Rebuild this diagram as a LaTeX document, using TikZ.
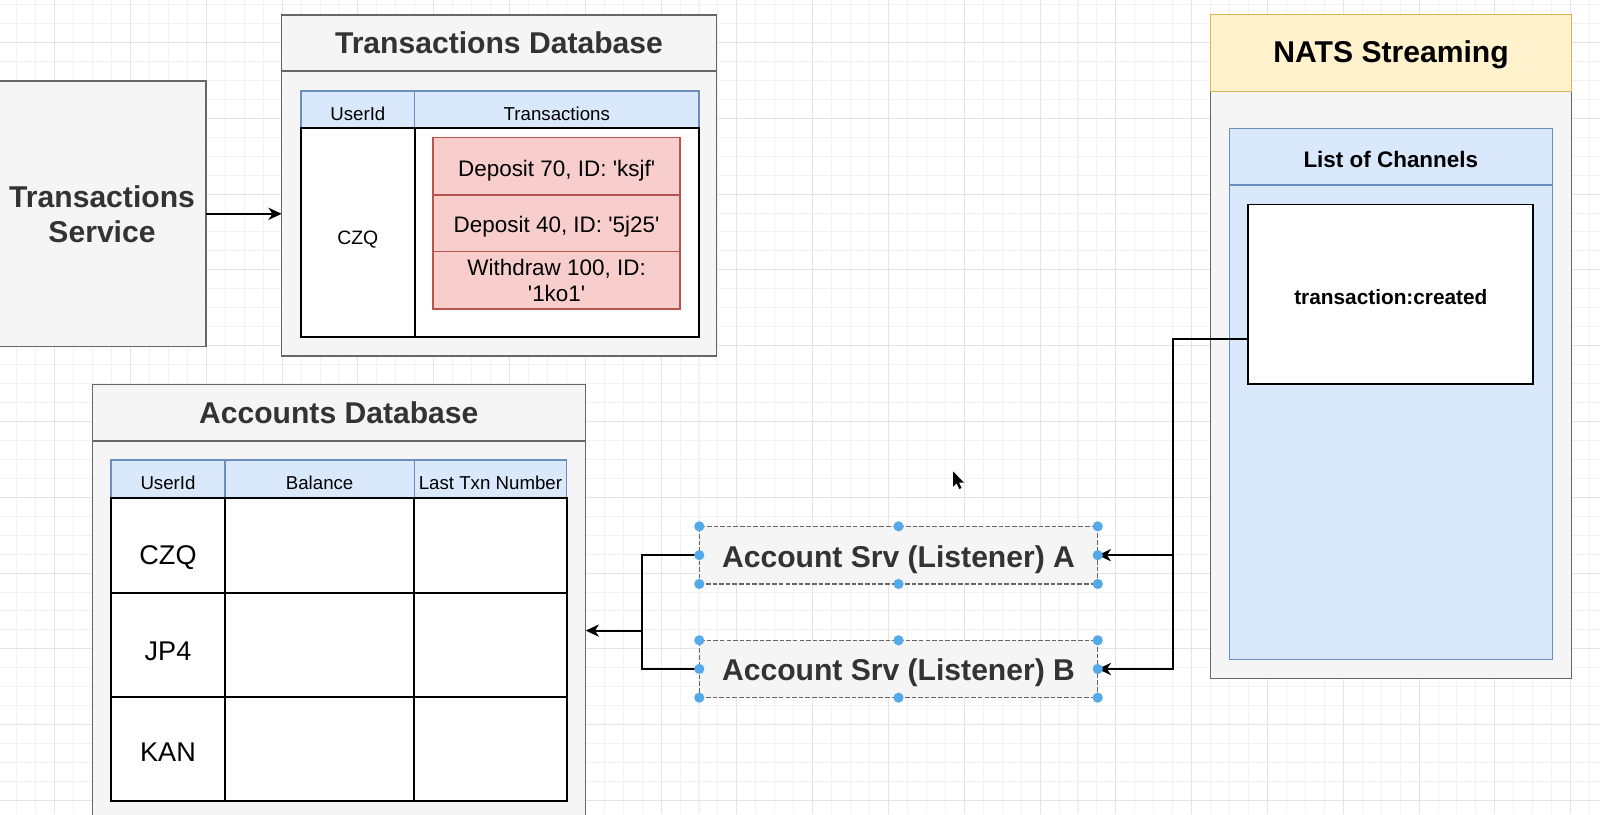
\documentclass[tikz,border=0pt]{standalone}
\usepackage{fontspec}
\setmainfont{Liberation Sans}
\usetikzlibrary{arrows.meta,calc}
\definecolor{gfill}{HTML}{F5F5F5}
\definecolor{gline}{HTML}{666666}
\definecolor{bfill}{HTML}{DAE8FC}
\definecolor{bline}{HTML}{6C8EBF}
\definecolor{rfill}{HTML}{F8CECC}
\definecolor{rline}{HTML}{B85450}
\definecolor{yfill}{HTML}{FFF2CC}
\definecolor{yline}{HTML}{D6B656}
\definecolor{dtext}{HTML}{333333}
\definecolor{handle}{RGB}{84,170,232}
\definecolor{gridminor}{HTML}{F2F2F2}
\definecolor{gridmajor}{HTML}{E4E4E4}
\newcommand{\sq}{\textquotesingle}
\newcommand{\mkbox}[7]{%
  \pgfmathsetmacro{\mkW}{#5-#3}\pgfmathsetmacro{\mkH}{#6-#4}%
  \pgfmathsetmacro{\mkX}{(#3+#5)/2}\pgfmathsetmacro{\mkY}{(#4+#6)/2}%
  \node[#2, minimum width=\mkW pt, minimum height=\mkH pt] (#1) at (\mkX,\mkY) {#7};}
\begin{document}
\begin{tikzpicture}[x=1pt,y=-1pt,
  mybase/.style={inner sep=0pt, outer sep=0pt, align=center},
  vc/.style={text depth=0pt, text height=#1},
  gbox/.style={mybase, draw=gline, fill=gfill, line width=1.5pt},
  bbox/.style={mybase, draw=bline, fill=bfill, line width=1.5pt},
  rbox/.style={mybase, draw=rline, fill=rfill, line width=1.5pt, font=\fontsize{22}{25}\selectfont},
  ybox/.style={mybase, draw=yline, fill=yfill, line width=1.5pt},
  wcell/.style={mybase, draw=black, fill=white, line width=2pt},
  hcell/.style={mybase, draw=bline, fill=bfill, line width=1.5pt, font=\fontsize{18.3}{21}\selectfont, vc=20.4pt},
  bigtitle/.style={font=\bfseries\fontsize{29.5}{35}\selectfont, text=dtext, align=center, inner sep=0pt},
  lbox/.style={mybase, draw=gline, fill=gfill, line width=1.3pt, dash pattern=on 4.5pt off 2pt, font=\bfseries\fontsize{29.5}{35}\selectfont, text=dtext, vc=23.4pt},
  conn/.style={draw=black, line width=1.8pt},
  arr/.style={conn, -{Stealth[length=13pt,width=12pt,inset=4pt]}},
  hdl/.style={circle, fill=handle, inner sep=0pt, minimum size=10pt},
  rowlbl/.style={wcell, font=\fontsize{26.5}{30}\selectfont}
]
\useasboundingbox (0,0) rectangle (1568,798);
\fill[white] (0,0) rectangle (1568,798);
\begin{scope}
\clip (0,0) rectangle (1568,798);
\foreach \i in {0,...,84} {\pgfmathsetmacro{\gx}{16.5+\i*18.57}\draw[gridminor, line width=1pt] (\gx,0) -- (\gx,798);}
\foreach \j in {0,...,43} {\pgfmathsetmacro{\gy}{4.5+\j*18.57}\draw[gridminor, line width=1pt] (0,\gy) -- (1568,\gy);}
\foreach \i in {2,6,...,82} {\pgfmathsetmacro{\gx}{16.5+\i*18.57}\draw[gridmajor, line width=1pt] (\gx,0) -- (\gx,798);}
\foreach \j in {2,6,...,42} {\pgfmathsetmacro{\gy}{4.5+\j*18.57}\draw[gridmajor, line width=1pt] (0,\gy) -- (1568,\gy);}
\end{scope}

% Transactions Service
\mkbox{ts}{gbox}{-10}{79.4}{202}{339.7}{}
\node[bigtitle] (tstxt) at (100,210) {Transactions\\Service};

% Transactions Database
\mkbox{td}{gbox}{276}{14.7}{702}{349}{}
\draw[gline, line width=1.5pt] (276,69.6) -- (702,69.6);
\node[bigtitle] (tdt) at (489,42) {Transactions Database};
\mkbox{tdh1}{hcell, vc=21.4pt}{295}{89}{406.4}{125}{UserId}
\mkbox{tdh2}{hcell, vc=21.4pt}{406.4}{89}{685}{125}{Transactions}
\mkbox{tdb1}{wcell, font=\fontsize{19}{22}\selectfont, vc=23pt}{295}{125}{406.4}{330.6}{CZQ}
\mkbox{tdb2}{wcell}{406.4}{125}{685}{330.6}{}
\mkbox{tx1}{rbox, vc=19.4pt}{424.4}{134.9}{666.5}{191.1}{Deposit 70, ID: \sq ksjf\sq}
\mkbox{tx2}{rbox, vc=18.6pt}{424.4}{191.1}{666.5}{246.6}{Deposit 40, ID: \sq 5j25\sq}
\mkbox{tx3}{rbox}{424.4}{246.6}{666.5}{302.8}{Withdraw 100, ID:\\\sq 1ko1\sq}

% NATS Streaming
\mkbox{nats}{gbox}{1186.5}{14.4}{1540}{665}{}
\mkbox{natsh}{ybox, font=\bfseries\fontsize{29.5}{35}\selectfont, vc=19pt}{1186.5}{14.4}{1540}{89.7}{NATS Streaming}
\mkbox{loc}{bbox}{1204.7}{126}{1521.3}{646.1}{}
\draw[bline, line width=1.5pt] (1204.7,181.1) -- (1521.3,181.1);
\node[font=\bfseries\fontsize{22}{26}\selectfont, inner sep=0pt, vc=20pt] (loct) at (1363,154) {List of Channels};
\mkbox{tc}{wcell, line width=1.8pt, font=\bfseries\fontsize{20.4}{24}\selectfont, vc=20.8pt}{1223.4}{200.4}{1502.7}{376.2}{transaction:created}

% Accounts Database
\mkbox{ad}{gbox}{90.5}{376.6}{574}{840}{}
\draw[gline, line width=1.5pt] (90.5,432.2) -- (574,432.2);
\node[bigtitle] (adt) at (332,404) {Accounts Database};
\mkbox{adh1}{hcell}{108.8}{450.8}{220.5}{487.7}{UserId}
\mkbox{adh2}{hcell}{220.5}{450.8}{406}{487.7}{Balance}
\mkbox{adh3}{hcell}{406}{450.8}{555.3}{487.7}{Last Txn Number}
\mkbox{r1a}{rowlbl, vc=37.8pt}{108.8}{487.7}{220.5}{580.8}{CZQ}
\mkbox{r1b}{wcell}{220.5}{487.7}{406}{580.8}{}
\mkbox{r1c}{wcell}{406}{487.7}{555.3}{580.8}{}
\mkbox{r2a}{rowlbl, vc=31.2pt}{108.8}{580.8}{220.5}{682.7}{JP4}
\mkbox{r2b}{wcell}{220.5}{580.8}{406}{682.7}{}
\mkbox{r2c}{wcell}{406}{580.8}{555.3}{682.7}{}
\mkbox{r3a}{rowlbl, vc=25.6pt}{108.8}{682.7}{220.5}{785}{KAN}
\mkbox{r3b}{wcell}{220.5}{682.7}{406}{785}{}
\mkbox{r3c}{wcell}{406}{682.7}{555.3}{785}{}

% Listeners
\mkbox{la}{lbox}{685.3}{515.8}{1075.8}{572.3}{Account Srv (Listener) A}
\mkbox{lb}{lbox}{685.3}{627.5}{1075.8}{683.7}{Account Srv (Listener) B}

% Connectors
\draw[arr] (ts.east) -- (ts.east -| td.west);
\coordinate (tcp) at ($(tc.north west)!0.75!(tc.south west)$);
\coordinate (jr) at (1149.2,0);
\draw[arr] (tcp) -- (tcp -| jr) |- (lb.east);
\draw[arr] (la.east -| jr) -- (la.east);
\coordinate (jl) at (629.3,618);
\draw[conn] (la.west) -| (jl);
\draw[conn] (lb.west) -| (jl);
\draw[arr] (jl) -- (jl -| ad.east);

% Selection handles
\foreach \n in {la,lb} {
  \foreach \a/\k in {north west/1,north/2,north east/3,east/4,south east/5,south/6,south west/7,west/8} {
    \node[hdl] (\n h\k) at (\n.\a) {};
  }
}

% Mouse cursor
\fill[black] (934,462) -- ++(0,15) -- ++(3.5,-3.3) -- ++(2.5,5.5) -- ++(2.3,-1) -- ++(-2.5,-5.3) -- ++(4.8,0) -- cycle;
\end{tikzpicture}
\end{document}
